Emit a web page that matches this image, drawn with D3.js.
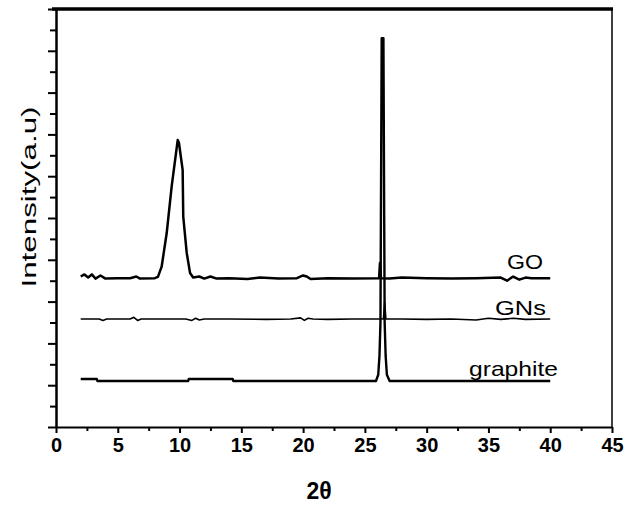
<!DOCTYPE html>
<html>
<head>
<meta charset="utf-8">
<script src="https://cdn.jsdelivr.net/npm/d3@7"></script>
<style>
    body { margin: 0; background: #fff; }
    svg { display: block; }
</style>
</head>
<body>
<svg id="vis_svg"></svg>
<script>
// Data: [2theta, intensity (a.u.)]
let goData = [
    [2.0, 7.2], [2.3, 7.3], [2.6, 7.15], [2.9, 7.3], [3.2, 7.1], [3.6, 7.25], [4.0, 7.1],
    [5.0, 7.12], [6.0, 7.12], [6.5, 7.2], [6.8, 7.1], [8.0, 7.12], [8.25, 7.18],
    [8.55, 7.67], [8.96, 9.28], [9.36, 11.5], [9.85, 13.73], [9.95, 13.6], [10.25, 12.3],
    [10.3, 10.06], [10.58, 8.33], [10.85, 7.37], [11.1, 7.15], [11.6, 7.2], [12.0, 7.1],
    [12.5, 7.2], [13.0, 7.1], [14.0, 7.12], [15.5, 7.08], [16.5, 7.15], [18.0, 7.1],
    [19.5, 7.12], [20.0, 7.25], [20.3, 7.2], [20.6, 7.08], [22.0, 7.12], [24.0, 7.1],
    [26.15, 7.12], [26.22, 7.85], [26.3, 7.12], [27.0, 7.1], [28.0, 7.15], [30.0, 7.12],
    [32.0, 7.1], [34.0, 7.12], [36.0, 7.15], [36.5, 7.0], [37.0, 7.2], [37.5, 7.05],
    [38.0, 7.15], [38.5, 7.12], [40.0, 7.12]
];
let gnsData = [
    [2.0, 5.17], [3.5, 5.17], [3.8, 5.1], [4.1, 5.17], [6.0, 5.17], [6.3, 5.25], [6.6, 5.1],
    [6.9, 5.17], [9.0, 5.17], [10.5, 5.17], [11.0, 5.1], [11.3, 5.2], [11.6, 5.12],
    [12.0, 5.17], [14.0, 5.17], [17.0, 5.15], [19.0, 5.17], [19.8, 5.22], [20.1, 5.1],
    [20.4, 5.2], [20.8, 5.17], [22.0, 5.15], [24.0, 5.17], [26.5, 5.17], [26.6, 5.95],
    [26.7, 5.17], [28.0, 5.17], [30.0, 5.15], [32.0, 5.17], [34.0, 5.12], [35.0, 5.2],
    [36.0, 5.15], [37.0, 5.2], [38.0, 5.15], [40.0, 5.17]
];
let graphiteData = [
    [2.0, 2.3], [3.3, 2.3], [3.35, 2.2], [10.7, 2.2], [10.75, 2.3], [14.3, 2.3], [14.35, 2.2],
    [25.9, 2.2], [26.08, 2.5], [26.18, 3.4], [26.26, 5.0], [26.36, 18.6],
    [26.5, 18.6], [26.6, 5.0], [26.68, 3.4], [26.78, 2.5], [27.0, 2.2],
    [40.0, 2.2]
];
let seriesNames = ['GO', 'GNs', 'graphite'];
let xTicks = [0, 5, 10, 15, 20, 25, 30, 35, 40, 45];
let xMinorTicks = [2.5, 7.5, 12.5, 17.5, 22.5, 27.5, 32.5, 37.5, 42.5];
let yTicks = d3.range(0, 21, 1);

let config = {
    'svg': { 'margin': {} },
    'label': {}
};
let scales = {};
let svg;

function visSetup() {
    config.svg.width = 626;
    config.svg.height = 509;
    config.svg.margin.top = 9;
    config.svg.margin.right = 14;
    config.svg.margin.bottom = 82;
    config.svg.margin.left = 56;
    config.plot_w = config.svg.width - config.svg.margin.left - config.svg.margin.right;
    config.plot_h = config.svg.height - config.svg.margin.top - config.svg.margin.bottom;

    svg = d3.select('#vis_svg')
        .attr('width', config.svg.width)
        .attr('height', config.svg.height);

    scales.x = d3.scaleLinear().domain([0, 45]).range([0, config.plot_w]);
    scales.y = d3.scaleLinear().domain([0, 20]).range([config.plot_h, 0]);
}

function visDraw() {
    let g = svg.append('g')
        .attr('transform', translate(config.svg.margin.left, config.svg.margin.top));

    // frame: thick top, thin right
    g.append('line')
        .attr('x1', -4).attr('x2', config.plot_w + 1)
        .attr('y1', 0).attr('y2', 0)
        .attr('stroke', '#000').attr('stroke-width', 3.5);
    g.append('line')
        .attr('x1', config.plot_w).attr('x2', config.plot_w)
        .attr('y1', 0).attr('y2', config.plot_h)
        .attr('stroke', '#000').attr('stroke-width', 1.5);

    // bottom axis
    let xAxis = g.append('g')
        .attr('transform', translate(0, config.plot_h))
        .call(d3.axisBottom(scales.x).tickValues(xTicks).tickSize(6).tickSizeOuter(0).tickPadding(5));
    xAxis.select('.domain').attr('stroke-width', 2);
    xAxis.selectAll('.tick line').attr('stroke-width', 2);
    xAxis.selectAll('text')
        .attr('font-family', '"Liberation Sans", Arial, sans-serif')
        .attr('font-weight', 'bold')
        .attr('font-size', 20)
        .attr('fill', '#000');
    let xMinor = g.append('g')
        .attr('transform', translate(0, config.plot_h))
        .call(d3.axisBottom(scales.x).tickValues(xMinorTicks).tickSize(4).tickFormat(''));
    xMinor.select('.domain').remove();
    xMinor.selectAll('.tick line').attr('stroke-width', 2);

    // left axis, no labels
    let yAxis = g.append('g')
        .call(d3.axisLeft(scales.y).tickValues(yTicks).tickSize(8).tickSizeOuter(0).tickFormat(''));
    yAxis.select('.domain').attr('stroke-width', 2.5);
    yAxis.selectAll('.tick line')
        .attr('stroke-width', 2)
        .attr('x2', d => d % 2 === 0 ? -8 : -6);

    // traces
    let line = d3.line()
        .x(d => scales.x(d[0]))
        .y(d => scales.y(d[1]));
    let traces = [goData, gnsData, graphiteData];
    let widths = [2.5, 1.6, 2.4];
    g.selectAll('path.trace')
        .data(traces)
        .join('path')
        .attr('class', 'trace')
        .attr('d', line)
        .attr('fill', 'none')
        .attr('stroke', '#000')
        .attr('stroke-width', (d, i) => widths[i])
        .attr('stroke-linejoin', 'round');

    // series labels
    let labelPos = [
        { x: 543, y: 269, len: 36 },
        { x: 546, y: 315, len: 51 },
        { x: 558, y: 376, len: 89 }
    ];
    svg.selectAll('text.series')
        .data(seriesNames)
        .join('text')
        .attr('class', 'series')
        .attr('x', (d, i) => labelPos[i].x)
        .attr('y', (d, i) => labelPos[i].y)
        .attr('text-anchor', 'end')
        .attr('font-family', '"Liberation Sans", Arial, sans-serif')
        .attr('font-size', 21)
        .attr('textLength', (d, i) => labelPos[i].len)
        .attr('lengthAdjust', 'spacingAndGlyphs')
        .text(d => d);

    // axis titles
    svg.append('text')
        .attr('transform', translate(36, 197) + ' rotate(-90)')
        .attr('text-anchor', 'middle')
        .attr('font-family', '"Liberation Sans", Arial, sans-serif')
        .attr('font-size', 21)
        .attr('textLength', 181)
        .attr('lengthAdjust', 'spacingAndGlyphs')
        .text('Intensity(a.u)');

    svg.append('text')
        .attr('x', 319)
        .attr('y', 499)
        .attr('text-anchor', 'middle')
        .attr('font-family', '"Liberation Sans", Arial, sans-serif')
        .attr('font-weight', 'bold')
        .attr('font-size', 23)
        .text('2θ');
}

// Helper
function translate(x, y) {
    return 'translate(' + x + ',' + y + ')';
}

visSetup();
visDraw();
</script>
</body>
</html>
